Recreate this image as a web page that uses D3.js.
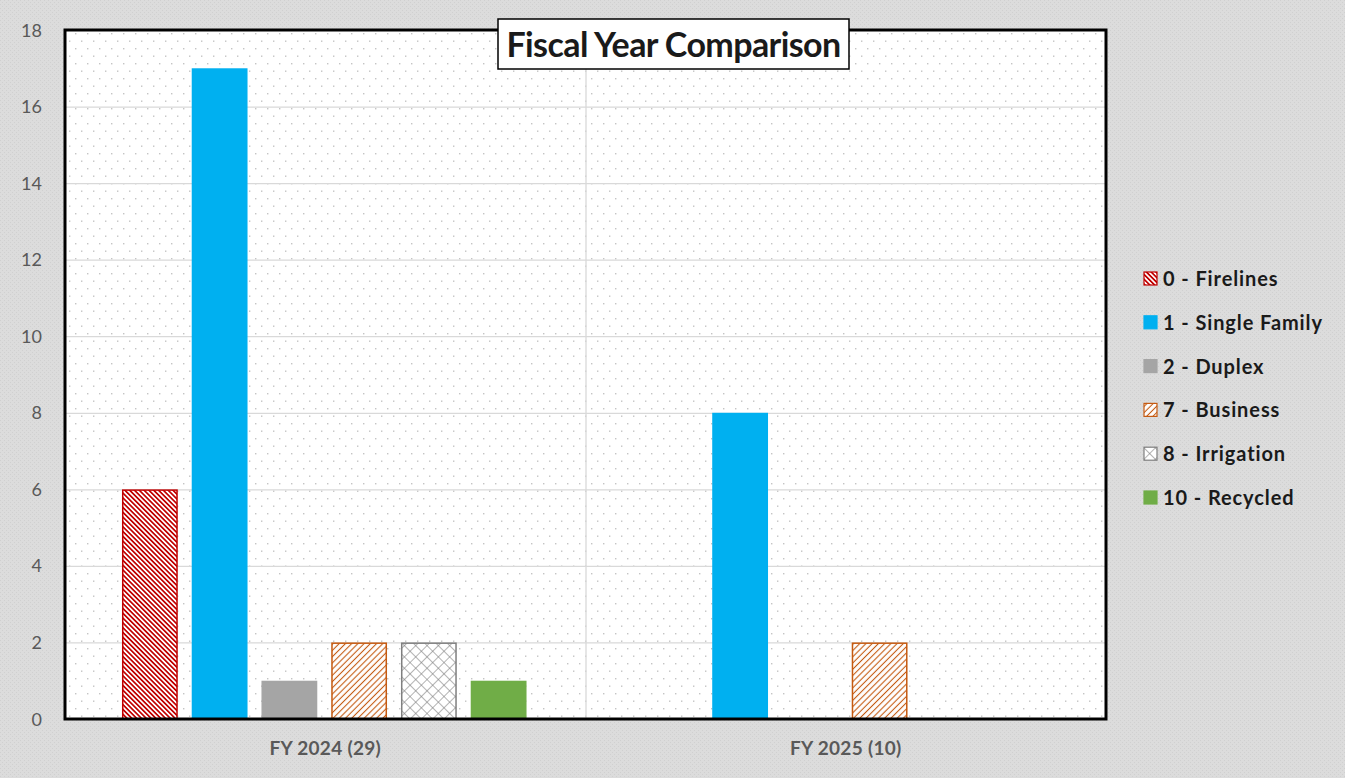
<!DOCTYPE html>
<html>
<head>
<meta charset="utf-8">
<script src="https://cdn.jsdelivr.net/npm/d3@7"></script>
<style>
  body { margin: 0; background: #d9d9d9; }
  svg { display: block; }
</style>
</head>
<body>
<svg width="1345" height="778"></svg>
<script>
const categories = ["FY 2024 (29)", "FY 2025 (10)"];
const seriesNames = ["0 - Firelines", "1 - Single Family", "2 - Duplex", "7 - Business", "8 - Irrigation", "10 - Recycled"];
const firelines = [6, 0];
const singleFamily = [17, 8];
const duplex = [1, 0];
const business = [2, 2];
const irrigation = [2, 0];
const recycled = [1, 0];
const yTicks = [0, 2, 4, 6, 8, 10, 12, 14, 16, 18];

const seriesValues = [firelines, singleFamily, duplex, business, irrigation, recycled];

var svg = d3.select("svg"),
    width = +svg.attr("width"),
    height = +svg.attr("height"),
    margin = {top: 30, right: 239, bottom: 59, left: 65};

var defs = svg.append("defs");

// background texture
var bgp = defs.append("pattern").attr("id", "bg").attr("patternUnits", "userSpaceOnUse")
    .attr("width", 4).attr("height", 4);
bgp.append("rect").attr("width", 4).attr("height", 4).attr("fill", "#dcdcdc");
bgp.append("rect").attr("x", 0).attr("y", 0).attr("width", 1).attr("height", 1).attr("fill", "#d0d0d0");
bgp.append("rect").attr("x", 2).attr("y", 2).attr("width", 1).attr("height", 1).attr("fill", "#d0d0d0");

// dotted plot area
var dp = defs.append("pattern").attr("id", "dots").attr("patternUnits", "userSpaceOnUse")
    .attr("width", 12).attr("height", 15);
dp.append("rect").attr("width", 12).attr("height", 15).attr("fill", "#fff");
dp.append("rect").attr("x", 3).attr("y", 3).attr("width", 1.4).attr("height", 1.4).attr("fill", "#c4c4c4");
dp.append("rect").attr("x", 9).attr("y", 10.5).attr("width", 1.4).attr("height", 1.4).attr("fill", "#c4c4c4");

// hatches
function hatch(id, color, spacing, angle, sw) {
    var p = defs.append("pattern").attr("id", id).attr("patternUnits", "userSpaceOnUse")
        .attr("width", spacing).attr("height", spacing)
        .attr("patternTransform", "rotate(" + angle + ")");
    p.append("rect").attr("width", spacing).attr("height", spacing).attr("fill", "#fff");
    p.append("line").attr("x1", spacing / 2).attr("y1", 0).attr("x2", spacing / 2).attr("y2", spacing)
        .attr("stroke", color).attr("stroke-width", sw);
}
hatch("hFire", "#c00000", 3.4, -45, 1.7);
hatch("hBiz", "#c55a11", 4.4, 45, 1.1);
var xp = defs.append("pattern").attr("id", "hIrr").attr("patternUnits", "userSpaceOnUse")
    .attr("width", 8).attr("height", 8).attr("patternTransform", "rotate(45)");
xp.append("rect").attr("width", 8).attr("height", 8).attr("fill", "#fff");
xp.append("line").attr("x1", 0).attr("y1", 0).attr("x2", 0).attr("y2", 8).attr("stroke", "#7f7f7f").attr("stroke-width", 1.2);
xp.append("line").attr("x1", 0).attr("y1", 0).attr("x2", 8).attr("y2", 0).attr("stroke", "#7f7f7f").attr("stroke-width", 1.2);

var fills = ["url(#hFire)", "#00b0f0", "#a5a5a5", "url(#hBiz)", "url(#hIrr)", "#70ad47"];
var strokes = ["#c00000", "#00b0f0", "#a5a5a5", "#c55a11", "#7f7f7f", "#70ad47"];

svg.append("rect").attr("width", width).attr("height", height).attr("fill", "url(#bg)");

var x0 = d3.scaleBand()
    .domain(categories)
    .range([margin.left, width - margin.right]);

var x1 = d3.scaleBand()
    .domain(seriesNames)
    .range([50, x0.bandwidth() - 52])
    .paddingInner(0.2)
    .paddingOuter(0.1);

var y = d3.scaleLinear()
    .domain([0, 18])
    .range([height - margin.bottom, margin.top]);

// plot area
svg.append("rect")
    .attr("x", margin.left).attr("y", margin.top)
    .attr("width", width - margin.left - margin.right)
    .attr("height", height - margin.top - margin.bottom)
    .attr("fill", "url(#dots)");

// gridlines
svg.append("g")
    .selectAll("line")
    .data(yTicks.slice(1, -1))
    .enter().append("line")
    .attr("x1", margin.left).attr("x2", width - margin.right)
    .attr("y1", d => y(d) + 0.5).attr("y2", d => y(d) + 0.5)
    .attr("stroke", "#d9d9d9").attr("stroke-width", 1.3);

svg.append("line")
    .attr("x1", x0(categories[1]) + 0.5).attr("x2", x0(categories[1]) + 0.5)
    .attr("y1", margin.top).attr("y2", height - margin.bottom)
    .attr("stroke", "#d9d9d9").attr("stroke-width", 1.3);

// bars
var groups = svg.append("g")
    .selectAll("g")
    .data(categories)
    .enter().append("g")
    .attr("transform", d => "translate(" + x0(d) + ",0)");

groups.selectAll("rect")
    .data((c, ci) => seriesNames.map((s, si) => ({s: s, si: si, v: seriesValues[si][ci]})).filter(d => d.v > 0))
    .enter().append("rect")
    .attr("x", d => x1(d.s) + 0.75)
    .attr("width", x1.bandwidth() - 1.5)
    .attr("y", d => y(d.v) + 0.75)
    .attr("height", d => y(0) - y(d.v) - 0.75)
    .attr("fill", d => fills[d.si])
    .attr("stroke", d => strokes[d.si])
    .attr("stroke-width", 1.5);

// border
svg.append("rect")
    .attr("x", margin.left).attr("y", margin.top)
    .attr("width", width - margin.left - margin.right)
    .attr("height", height - margin.top - margin.bottom)
    .attr("fill", "none").attr("stroke", "#000").attr("stroke-width", 3);

// y axis labels
svg.append("g")
    .selectAll("text")
    .data(yTicks)
    .enter().append("text")
    .attr("x", 42).attr("y", d => y(d) + 6.5)
    .attr("text-anchor", "end")
    .attr("font-family", "Lato, sans-serif").attr("font-size", 18)
    .attr("fill", "#595959")
    .text(d => d);

// x axis labels
svg.append("g")
    .selectAll("text")
    .data(categories)
    .enter().append("text")
    .attr("x", d => x0(d) + x0.bandwidth() / 2)
    .attr("y", 755)
    .attr("text-anchor", "middle")
    .attr("font-family", "Lato, sans-serif").attr("font-size", 19)
    .attr("font-weight", "bold").attr("letter-spacing", 0.3)
    .attr("fill", "#595959")
    .text(d => d);

// title
svg.append("rect")
    .attr("x", 498).attr("y", 19).attr("width", 351).attr("height", 50)
    .attr("fill", "#fff").attr("stroke", "#000").attr("stroke-width", 1.5);
svg.append("text")
    .attr("x", 673.5).attr("y", 57)
    .attr("text-anchor", "middle")
    .attr("font-family", "Lato, sans-serif").attr("font-size", 34)
    .attr("font-weight", "bold").attr("letter-spacing", -0.6)
    .attr("fill", "#1a1a1a")
    .text("Fiscal Year Comparison");

// legend
var legend = svg.append("g")
    .selectAll("g")
    .data(seriesNames)
    .enter().append("g")
    .attr("transform", (d, i) => "translate(1144," + (272 + i * 43.8) + ")");

legend.append("rect")
    .attr("width", 13).attr("height", 13)
    .attr("fill", (d, i) => fills[i])
    .attr("stroke", (d, i) => strokes[i])
    .attr("stroke-width", 1.2);

legend.append("text")
    .attr("x", 19).attr("y", 14)
    .attr("font-family", "Lato, sans-serif").attr("font-size", 20)
    .attr("font-weight", "bold").attr("letter-spacing", 0.9)
    .attr("fill", "#1a1a1a")
    .text(d => d);
</script>
</body>
</html>
